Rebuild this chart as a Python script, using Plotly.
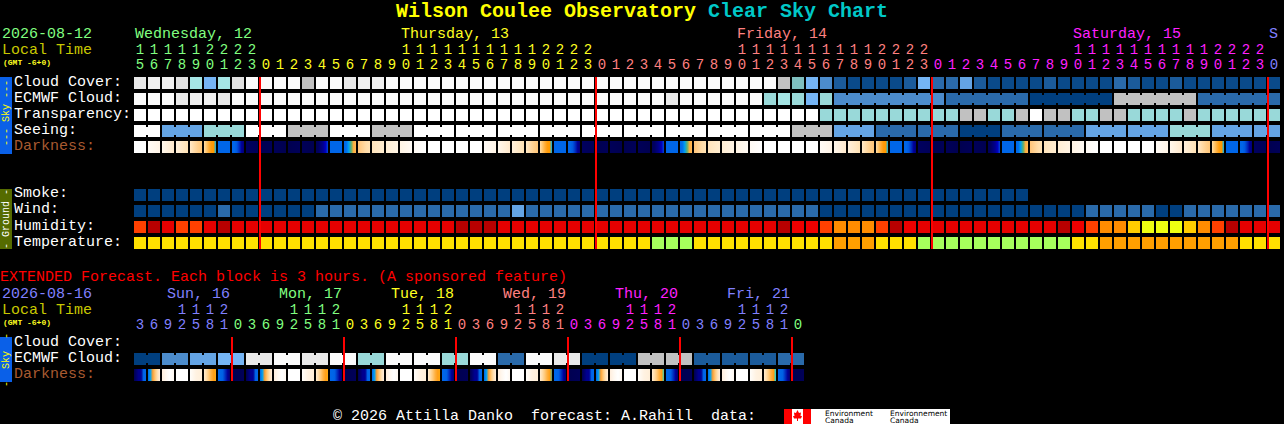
import plotly.graph_objects as go

# ---- data -------------------------------------------------------------
sky_rows = ["Cloud Cover:", "ECMWF Cloud:", "Transparency:", "Seeing:", "Darkness:"]
ground_rows = ["Smoke:", "Wind:", "Humidity:", "Temperature:"]
ext_rows = ["Cloud Cover:", "ECMWF Cloud:", "Darkness:"]

sky_palette = {"a": "#003f7f", "b": "#0a4a8a", "s": "#1b5b9b", "c": "#2a6aaa", "d": "#4c8ccc",
               "e": "#64a4e4", "f": "#75b5f5", "t": "#99d9d9", "u": "#a5e5e5", "k": "#7fbfbf",
               "g": "#c1c1c1", "h": "#e0e0e0", "l": "#e9e9e9", "m": "#f0f0f0", "w": "#fbfbfb",
               "x": "#ffffff"}
humidity_palette = {"r": "#e60000", "R": "#b80000", "E": "#ee0000", "o": "#ff4000",
                    "O": "#ff8c00", "y": "#ffcc00", "Y": "#eeff11"}
temperature_palette = {"y": "#ffe000", "n": "#a6ff5c", "o": "#ff9f00"}

cloud_cover = ("lmmhufuhw" "wwwgwwlmmwww" "wwwwwwwwwwww" "wwwwwwwwwwwww"
               "gkfdsb" "bbbsfcces" "bbbbsbbbbcsbbsbbbbbbb")
ecmwf_cloud = ("wwwlmmlww" + "w" * 29 + "lwwwwww" "tutft" "dd" "dddddd" "cccccc" "aaaaaa" "gggggg" "cccccc")
transparency = "x" * 49 + "tttttttttt" "gg" "tt" "g" "x" "gg" "tt" "gg" "tttt" "g" "tttttt"
seeing = ("xx" "eee" "ttt" "xxx" "ggg" "xxx" "ggg" + "x" * 27 +
          "ggg" "eee" "ccc" "ccc" "aaa" "ccc" "ccc" "eee" "eee" "ttt" "eee" "ee")
smoke = "a" * 64
wind = "aaaaaa" "c" "aaaaaa" + "c" * 14 + "e" + "c" * 21 + "a" * 19 + "ccccc" "aa" "ccccccc"
humidity = ("oRroorR" + "r" * 16 + "RRR" + "r" * 20 + "R" "EE" "o" "OOO" "o" "R" "E" + "r" * 10 +
            "R" "E" "o" "OO" "y" "YYY" "y" "O" "o" "R" "rrr")
temperature = "y" * 37 + "nnn" + "y" * 10 + "ooo" "yyy" + "n" * 11 + "yy" + "o" * 10 + "yyy"
ext_ecmwf = "aaddeeffllwwllwwttwwwwttwwccwwllaaaaggggsssssscc"

seeing_groups = [2] + [3] * 26 + [2]       # blocks linked together in Seeing
ecmwf_linked_from = 50                     # ECMWF blocks are linked from here on
ext_ecmwf_groups = [2] * 24

# darkness colour stops across each block (24 hour cycle starting at 15h)
darkness_cycle = [
    ["#ffffff", "#ffffff"],
    ["#fffbf6", "#fff4e6"],
    ["#fff7ec", "#ffe9cc"],
    ["#fff0dc", "#ffe2b4"],
    ["#ffe9c8", "#ffdba8", "#ffcf8c", "#ffc678"],
    ["#ffdca6", "#ffc66e", "#ffae3a", "#ff9c0c", "#ff9900", "#00b4f0"],
    ["#0066e8", "#0066e8"],
    ["#0066e8", "#0066e8", "#0058e0", "#0030c0", "#000098", "#000078"],
    ["#00005f", "#000058"],
    ["#000050", "#000058"],
    ["#000058", "#000050"],
    ["#000050", "#000058"],
    ["#000058", "#000050"],
    ["#000058", "#000060", "#000078", "#000090", "#0000c0", "#0048d8"],
    ["#0066e8", "#0066e8"],
    ["#0066e8", "#0070ec", "#00a0f0", "#60b070", "#ffae3c", "#ffb858"],
    ["#ffc478", "#ffd090", "#ffdca8", "#ffe2b4"],
    ["#ffe4bc", "#ffedd0"],
    ["#ffeed4", "#fff4e4"],
    ["#fff4e4", "#fffaf4"],
    ["#fffaf4", "#ffffff"],
    ["#ffffff", "#ffffff"],
    ["#ffffff", "#ffffff"],
    ["#ffffff", "#ffffff"],
]
ext_darkness_cycle = [
    ["#000050", "#000070", "#000090", "#000090", "#0066e8", "#0066e8"],
    ["#0066e8", "#00a0f0", "#ffa030", "#ffc878", "#ffe0b4", "#ffeedd"],
    ["#ffeedd", "#fff8f0", "#ffffff", "#fff8f0"],
    ["#ffffff", "#ffffff"],
    ["#fffdfa", "#fff2e2", "#ffeed8"],
    ["#ffebcf", "#ffdca8", "#ffc878", "#ffb040", "#ff9f18", "#ffa810"],
    ["#0066e8", "#0066e8", "#0060e4", "#0030c0", "#000098", "#000070"],
    ["#000050", "#000058"],
]
ext_darkness_stripes = {29: "#60a070", 37: "#40d0b0", 45: "#00e0f0"}

day_names = ["Wednesday, 12", "Thursday, 13", "Friday, 14", "Saturday, 15", "S"]
day_label_block = [0, 19, 43, 67, 81]
day_colors = ["#80ff80", "#ffff20", "#ff8080", "#ff20ff", "#8080ff"]
block_hours = [15, 16, 17, 18, 19, 20, 21, 22, 23] + list(range(24)) * 3 + [0]
block_day = [0] * 9 + [1] * 24 + [2] * 24 + [3] * 24 + [4]
midnight_blocks = [9, 33, 57, 81]

ext_day_names = ["Sun, 16", "Mon, 17", "Tue, 18", "Wed, 19", "Thu, 20", "Fri, 21"]
ext_day_colors = ["#8080ff", "#80ff80", "#ffff20", "#ff8080", "#ff20ff", "#8080ff", "#80ff80"]
ext_hours = [3, 6, 9, 12, 15, 18, 21] + [0, 3, 6, 9, 12, 15, 18, 21] * 5 + [0]
ext_day = [0] * 7 + [1] * 8 + [2] * 8 + [3] * 8 + [4] * 8 + [5] * 8 + [6]
ext_midnights = [7, 15, 23, 31, 39, 47]

assert len(cloud_cover) == len(ecmwf_cloud) == len(transparency) == len(seeing) == 82
assert len(wind) == len(humidity) == len(temperature) == 82 and len(ext_ecmwf) == 48

# ---- layout constants -------------------------------------------------
W, H = 1284, 424
FONT = "Liberation Mono"
PITCH_X, PITCH_Y, BLOCK = 14, 16, 12
X0 = 140  # pixel centre of block 0
xmin, xmax = -X0 / PITCH_X, (W - X0) / PITCH_X
half = (BLOCK / 2) / PITCH_X
half_y = (BLOCK / 2) / PITCH_Y
line_off = half  # midnight line sits on the left edge of the block

fig = go.Figure()


def blocks(codes, palette, row, yaxis):
    fig.add_trace(go.Scatter(
        x=list(range(len(codes))), y=[row] * len(codes), yaxis=yaxis, mode="markers", hoverinfo="skip",
        marker=dict(symbol="square", size=BLOCK, color=[palette[c] for c in codes], line_width=0)))


def links(codes, palette, row, yaxis, pairs):
    fig.add_trace(go.Scatter(
        x=[p + 0.5 for p in pairs], y=[row] * len(pairs), yaxis=yaxis, mode="markers", hoverinfo="skip",
        marker=dict(symbol="square", size=8, color=[palette[codes[p]] for p in pairs], line_width=0)))


def group_pairs(groups):
    pairs, pos = [], 0
    for g in groups:
        pairs += list(range(pos, pos + g - 1))
        pos += g
    return pairs


def gradient_block(i, row, yaxis, stops):
    n = len(stops) - 1
    fig.add_trace(go.Scatter(
        x=[i - half, i + half, i + half, i - half, i - half],
        y=[row - half_y, row - half_y, row + half_y, row + half_y, row - half_y],
        yaxis=yaxis, mode="none", fill="toself", hoverinfo="skip",
        fillgradient=dict(type="horizontal", colorscale=[[k / n, c] for k, c in enumerate(stops)])))


# sky panel
s = sky_palette
blocks(cloud_cover, s, 0, "y")
blocks(ecmwf_cloud, s, 1, "y")
links(ecmwf_cloud, s, 1, "y", [i for i in range(ecmwf_linked_from, 81) if ecmwf_cloud[i] == ecmwf_cloud[i + 1]])
blocks(transparency, s, 2, "y")
blocks(seeing, s, 3, "y")
links(seeing, s, 3, "y", group_pairs(seeing_groups))
for i in range(82):
    gradient_block(i, 4, "y", darkness_cycle[i % 24])

# ground panel
blocks(smoke, s, 0, "y2")
blocks(wind, s, 1, "y2")
blocks(humidity, humidity_palette, 2, "y2")
blocks(temperature, temperature_palette, 3, "y2")

# extended panel
blocks(ext_ecmwf, s, 1, "y3")
links(ext_ecmwf, s, 1, "y3", group_pairs(ext_ecmwf_groups))
for i in range(48):
    st = list(ext_darkness_cycle[i % 8])
    if i in ext_darkness_stripes:
        st = st[:-1] + [ext_darkness_stripes[i]]
    gradient_block(i, 2, "y3", st)

# hour digits
tx, ty, tt, tc = [], [], [], []
for i, (h, d) in enumerate(zip(block_hours, block_day)):
    tx.append(i); ty.append(65); tt.append(str(h % 10)); tc.append(day_colors[d])
    if h >= 10:
        tx.append(i); ty.append(50); tt.append(str(h // 10)); tc.append(day_colors[d])
for i, (h, d) in enumerate(zip(ext_hours, ext_day)):
    tx.append(i); ty.append(325); tt.append(str(h % 10)); tc.append(ext_day_colors[d])
    if h >= 10:
        tx.append(i); ty.append(310); tt.append(str(h // 10)); tc.append(ext_day_colors[d])
fig.add_trace(go.Scatter(x=tx, y=ty, yaxis="y4", mode="text", text=tt, hoverinfo="skip",
                         textposition="middle center",
                         textfont=dict(family=FONT, size=14, color=tc)))


def label(x, y, text, color="#ffffff", size=15, bold=False, angle=0, xanchor="left", family=FONT):
    fig.add_annotation(
        xref="paper", yref="paper", x=x / W, y=1 - y / H, text=f"<b>{text}</b>" if bold else text,
        showarrow=False, xanchor=xanchor, yanchor="middle", textangle=angle, borderpad=0, borderwidth=0,
        font=dict(family=family, size=size, color=color))


BROWN = "#a85a30"
label(396, 12, "Wilson Coulee Observatory", "#ffff00", 20, True)
label(708, 12, "Clear Sky Chart", "#00c8c8", 20, True)
label(2, 34, "2026-08-12", "#80ff80")
label(2, 50, "Local Time", "#c8c800")
label(3, 62, "(GMT -6+0)", "#ffff20", 8, True)
for name, b, c in zip(day_names, day_label_block, day_colors):
    label(X0 + b * PITCH_X - 5, 34, name, c)
for r, y in zip(sky_rows, [82, 98, 114, 130, 146]):
    label(14, y, r, BROWN if r.startswith("Dark") else "#ffffff")
for r, y in zip(ground_rows, [194, 210, 226, 242]):
    label(14, y, r)
label(0, 277, "EXTENDED Forecast. Each block is 3 hours. (A sponsored feature)", "#ff0000")
label(2, 294, "2026-08-16", "#8080ff")
label(2, 310, "Local Time", "#c8c800")
label(3, 322, "(GMT -6+0)", "#ffff20", 8, True)
for k, (name, c) in enumerate(zip(ext_day_names, ext_day_colors)):
    label(167 + k * 8 * PITCH_X, 294, name, c)
for r, y in zip(ext_rows, [342, 358, 374]):
    label(14, y, r, BROWN if r.startswith("Dark") else "#ffffff")
label(333, 416, "\u00a9 2026 Attilla Danko\u00a0\u00a0forecast: A.Rahill\u00a0\u00a0data:")
label(6, 113, "--- Sky ---", "#ffff00", 10, angle=-90, xanchor="center")
label(6, 219, "- Ground -", "#ffffff", 10, angle=-90, xanchor="center")
label(6, 360, "-\u00a0\u00a0Sky\u00a0\u00a0-", "#ffff00", 10, angle=-90, xanchor="center")
for x, a, b in [(825, "Environment", "Canada"), (890, "Environnement", "Canada")]:
    label(x, 413, a, "#000000", 7.5, family="DejaVu Sans")
    label(x, 420, b, "#000000", 7.5, family="DejaVu Sans")


# shapes: side bars, midnight lines, flag
def rect(x0, y0, x1, y1, color, layer="below"):
    fig.add_shape(type="rect", xref="paper", yref="paper", x0=x0 / W, x1=x1 / W, y0=1 - y0 / H, y1=1 - y1 / H,
                  fillcolor=color, line_width=0, layer=layer)


rect(0, 77, 12, 154, "#0a60e8")
rect(0, 189, 12, 249, "#556b00")
rect(0, 337, 12, 382, "#0a60e8")
rect(784, 409, 950, 424, "#ffffff")
rect(784, 409, 792, 424, "#ff0000")
rect(803, 409, 811, 424, "#ff0000")
leaf = [(797.5, 410), (799, 413), (801, 412.5), (800.5, 416), (802, 416), (801, 418.5), (798, 418.5), (798, 421),
        (797, 421), (797, 418.5), (794, 418.5), (793, 416), (794.5, 416), (794, 412.5), (796, 413)]
fig.add_shape(type="path", xref="paper", yref="paper", fillcolor="#ff0000", line_width=0,
              path="M " + " L ".join(f"{x / W:.5f},{1 - y / H:.5f}" for x, y in leaf) + " Z")

for b in midnight_blocks:
    fig.add_shape(type="line", xref="x", yref="y4", x0=b - line_off, x1=b - line_off, y0=77, y1=249,
                  line=dict(color="#ff0000", width=2), layer="above")
for b in ext_midnights:
    fig.add_shape(type="line", xref="x", yref="y4", x0=b - line_off, x1=b - line_off, y0=337, y1=381,
                  line=dict(color="#ff0000", width=2), layer="above")


def row_axis(top, nrows):
    h = nrows * PITCH_Y
    return dict(domain=[1 - (top + h) / H, 1 - top / H], range=[nrows - 0.5, -0.5], visible=False,
                anchor="x", fixedrange=True)


fig.update_layout(
    width=W, height=H, autosize=False, margin=dict(l=0, r=0, t=0, b=0, pad=0),
    paper_bgcolor="#000000", plot_bgcolor="rgba(0,0,0,0)", showlegend=False,
    xaxis=dict(domain=[0, 1], range=[xmin, xmax], visible=False, fixedrange=True),
    yaxis=row_axis(75, 5), yaxis2=row_axis(187, 4), yaxis3=row_axis(335, 3),
    yaxis4=dict(domain=[0, 1], range=[H, 0], visible=False, anchor="x", fixedrange=True),
)

fig.write_html("out.html", config={"displayModeBar": False},
               post_script="document.body.style.margin='0';document.body.style.background='#000';"
                           "document.body.style.overflow='hidden';")
